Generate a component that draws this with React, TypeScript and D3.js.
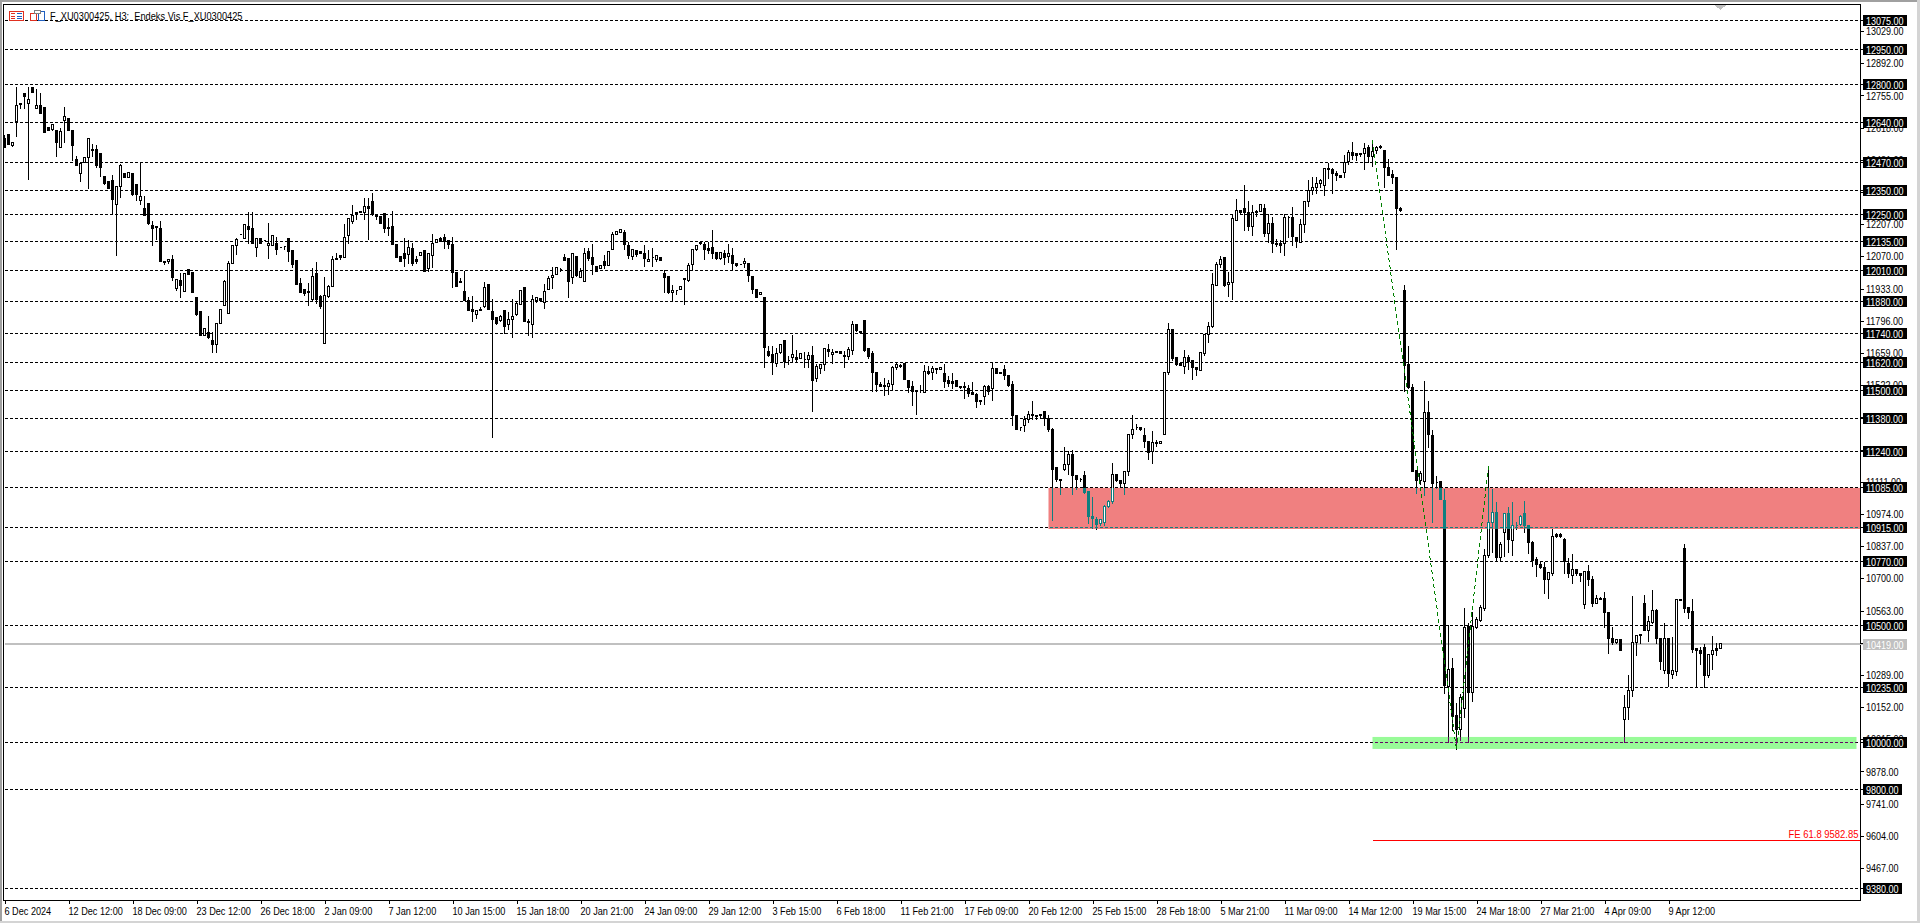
import * as d3 from 'd3';
import { useEffect, useRef } from 'react';

// one row per H3 bar: [open, high, low, close]
type Row = number[];

const barsDec: Row[] = [
  [12570,12591,12534,12534],[12588,12594,12546,12546],[12542,12553,12537,12553],[12645,12793,12581,12711],
  [12723,12723,12698,12716],[12762,12762,12699,12752],[12723,12793,12398,12740],[12787,12793,12769,12769],
  [12701,12783,12701,12711],[12711,12767,12679,12679],[12702,12702,12598,12598],[12618,12618,12607,12607],
  [12610,12637,12606,12630],[12608,12608,12495,12554],[12534,12617,12534,12600],[12650,12708,12554,12664],
  [12657,12657,12607,12607],[12608,12608,12478,12543],[12482,12499,12458,12458],[12425,12466,12390,12466],
  [12469,12489,12469,12489],[12489,12570,12360,12570],[12525,12549,12495,12522],[12527,12546,12449,12456],
  [12506,12506,12411,12449],[12412,12412,12377,12381],[12387,12387,12360,12360],[12395,12418,12250,12313],
  [12292,12368,12074,12368],[12368,12464,12321,12459],[12421,12421,12407,12407],[12407,12429,12407,12429],
  [12421,12421,12329,12333],[12378,12378,12307,12333],[12306,12468,12293,12327],[12272,12329,12246,12246],
  [12297,12297,12208,12211],[12201,12222,12117,12190],[12199,12199,12143,12195],[12188,12225,12049,12049],
  [12049,12049,12035,12045],[12049,12057,12038,12057],[12055,12080,11969,11981],[11935,11972,11927,11972],
  [11969,12001,11895,11948],[11922,11999,11922,11999],[12016,12016,11993,11993],[12001,12001,11917,11917],
  [11897,11897,11819,11822],[11837,11837,11735,11735],[11735,11765,11735,11765],[11748,11817,11722,11727],
  [11714,11749,11661,11695],[11697,11786,11661,11786],[11786,11846,11786,11846],[11863,11972,11860,11965],
  [11829,12052,11829,12042],[12040,12118,12038,12118],[12118,12151,12080,12144],[12165,12165,12164,12164],
  [12148,12208,12148,12208],[12199,12263,12126,12185],[12191,12260,12126,12126],[12110,12148,12070,12148],
  [12148,12148,12126,12126],[12137,12137,12136,12136],[12118,12214,12062,12127],[12118,12157,12118,12157],
  [12127,12154,12079,12100],[12110,12110,12109,12109],[12114,12114,12100,12111],[12148,12148,12049,12091],
  [12096,12096,12021,12036],[12053,12053,11952,11952],[11955,11981,11918,11918],[11930,11930,11905,11911],
  [11920,11958,11863,11918],[11888,12022,11883,11984],[11996,12049,11871,11888],[11898,11907,11850,11857],
];

const barsJan: Row[] = [
  [11701,11984,11701,11903],[11901,11951,11897,11941],[11941,12073,11941,12056],[12060,12086,12055,12055],
  [12073,12073,12059,12067],[12067,12209,12067,12150],[12158,12231,12124,12231],[12218,12292,12212,12243],
  [12256,12256,12229,12252],[12261,12261,12255,12255],[12259,12319,12226,12282],[12282,12319,12143,12276],
  [12303,12341,12243,12248],[12243,12252,12226,12239],[12239,12239,12209,12209],[12252,12252,12171,12187],
  [12192,12234,12158,12187],[12197,12265,12119,12119],[12120,12120,12067,12067],[12069,12069,12050,12050],
  [12082,12150,12028,12063],[12077,12141,12039,12107],[12103,12128,12033,12042],[12056,12073,12039,12050],
  [12072,12090,12072,12086],[12094,12099,12004,12004],[12018,12082,12004,12082],[12073,12167,12021,12124],
  [12128,12144,12128,12144],[12146,12154,12133,12133],[12150,12167,12103,12133],[12137,12137,12103,12120],
  [12120,12154,11937,12001],[12001,12001,11940,11942],[11962,11979,11958,11958],[11921,12009,11884,11884],
  [11881,11900,11839,11840],[11843,11904,11791,11837],[11825,11839,11808,11839],[11844,11859,11839,11839],
  [11859,11962,11852,11937],[11950,11950,11846,11846],[11835,11890,11301,11800],[11810,11813,11779,11783],
  [11796,11822,11792,11813],[11839,11839,11741,11773],[11779,11835,11758,11800],[11800,11890,11724,11813],
  [11825,11877,11820,11869],[11864,11931,11864,11924],[11937,11941,11792,11792],[11792,11805,11734,11789],
  [11779,11907,11724,11886],[11881,11898,11873,11894],[11890,11890,11881,11881],[11873,11954,11849,11920],
  [11928,11988,11928,11975],[11979,12026,11933,11988],[11992,12022,11992,12022],[12014,12022,12006,12013],
  [12065,12082,12052,12052],[12060,12060,11897,11962],[11979,12082,11954,12082],[12069,12069,11984,11988],
  [11980,12023,11980,12007],[11963,12109,11963,12084],[12092,12109,12054,12063],[12067,12126,11994,12034],
  [12028,12028,12007,12007],[12019,12033,12019,12033],[12050,12080,12019,12030],[12031,12097,12031,12092],
  [12101,12178,12101,12165],[12162,12182,12162,12178],[12172,12186,12172,12183],[12173,12186,12101,12121],
  [12118,12135,12061,12073],[12070,12101,12057,12101],[12097,12097,12071,12080],[12092,12092,12082,12082],
  [12084,12122,12027,12061],[12050,12101,12050,12058],[12067,12109,12027,12066],[12055,12075,12048,12075],
  [12067,12067,12053,12053],[11999,12016,11916,11980],[11983,11983,11914,11918],[11918,11952,11879,11926],
  [11926,11926,11909,11925],[11929,11943,11929,11943],[11977,11977,11867,11972],[11967,12046,11965,12033],
  [12037,12101,12014,12101],[12101,12122,12097,12118],[12131,12135,12122,12127],[12122,12135,12057,12099],
  [12105,12135,12084,12094],[12109,12186,12063,12084],[12088,12088,12055,12060],[12063,12092,12058,12087],
  [12084,12101,12036,12067],[12070,12126,12044,12084],[12075,12109,12011,12040],[12041,12046,12028,12033],
  [12037,12037,12036,12036],[12041,12067,12024,12050],[12041,12041,11965,11989],[11986,11986,11912,11931],
  [11931,11931,11896,11896],[11909,11918,11909,11918],[11896,11896,11597,11682],[11666,11692,11645,11649],
];

const barsFeb: Row[] = [
  [11654,11692,11567,11620],[11615,11683,11602,11658],[11662,11700,11658,11696],[11713,11713,11597,11625],
  [11628,11649,11610,11627],[11641,11739,11620,11654],[11641,11675,11624,11632],[11637,11658,11637,11658],
  [11632,11666,11598,11631],[11632,11666,11598,11649],[11649,11692,11409,11543],[11551,11615,11539,11602],
  [11594,11615,11573,11611],[11611,11679,11585,11679],[11675,11700,11645,11665],[11654,11679,11615,11662],
  [11665,11665,11661,11661],[11666,11666,11658,11658],[11649,11671,11598,11645],[11645,11688,11632,11675],
  [11671,11798,11654,11781],[11781,11781,11752,11756],[11752,11752,11747,11747],[11798,11798,11666,11669],
  [11679,11679,11637,11644],[11659,11668,11497,11577],[11574,11582,11497,11527],[11527,11536,11516,11516],
  [11519,11553,11477,11518],[11518,11548,11484,11531],[11527,11604,11503,11599],[11598,11625,11587,11612],
  [11604,11616,11597,11601],[11616,11616,11547,11547],[11544,11544,11489,11513],[11518,11540,11436,11497],
  [11501,11501,11398,11497],[11499,11523,11493,11498],[11489,11608,11489,11582],[11582,11604,11568,11572],
  [11578,11604,11548,11591],[11591,11595,11570,11587],[11587,11599,11587,11599],[11570,11616,11514,11538],
  [11540,11565,11518,11530],[11536,11574,11506,11530],[11540,11540,11517,11517],[11517,11517,11510,11514],
  [11518,11536,11466,11513],[11510,11527,11476,11487],[11489,11536,11483,11483],[11484,11489,11428,11452],
  [11455,11455,11439,11452],[11476,11524,11440,11518],[11518,11527,11483,11497],[11506,11625,11459,11591],
  [11591,11591,11572,11572],[11574,11582,11570,11570],[11587,11612,11548,11562],[11565,11565,11518,11521],
  [11527,11544,11351,11394],[11395,11399,11335,11335],[11341,11348,11330,11340],[11352,11395,11325,11374],
  [11374,11416,11365,11399],[11399,11459,11374,11391],[11391,11391,11378,11390],[11391,11399,11382,11399],
  [11408,11412,11351,11379],[11382,11399,11323,11335],[11335,11340,10948,11165],[11173,11173,11114,11119],
  [11122,11122,11057,11118],[11165,11260,11161,11186],[11186,11246,11144,11225],[11225,11250,11057,11139],
  [11139,11144,11080,11122],[11122,11129,11114,11121],[11139,11161,11061,11067],[11071,11071,10935,10965],
  [10965,11050,10914,10956],[10950,10965,10909,10931],[10935,10950,10924,10950],[10939,11016,10924,11007],
  [11007,11037,11002,11029],[11029,11195,11020,11144],[11144,11148,11114,11118],[11118,11118,11092,11105],
  [11105,11156,11058,11156],[11156,11317,11139,11314],[11314,11399,11297,11335],[11344,11361,11335,11340],
  [11341,11345,11328,11335],[11310,11340,11257,11284],[11284,11284,11207,11237],[11240,11331,11190,11280],
  [11280,11293,11263,11274],[11273,11281,11273,11281],[11313,11575,11313,11575],[11574,11790,11568,11759],
  [11759,11759,11628,11636],[11639,11639,11605,11609],[11615,11615,11605,11605],[11601,11673,11571,11639],
  [11639,11653,11588,11624],[11627,11631,11546,11597],[11597,11597,11563,11588],[11585,11661,11585,11661],
  [11655,11737,11649,11737],[11737,11793,11705,11771],[11770,12001,11767,11950],[11946,12048,11946,12035],
];

const barsMar: Row[] = [
  [12035,12074,12023,12057],[12067,12070,11940,11946],[11950,12006,11900,11959],[11959,12253,11886,12231],
  [12224,12317,12224,12265],[12265,12270,12253,12257],[12274,12376,12182,12256],[12257,12308,12179,12196],
  [12196,12291,12160,12257],[12261,12270,12241,12257],[12260,12295,12260,12291],[12274,12295,12153,12167],
  [12167,12253,12129,12210],[12210,12240,12087,12123],[12125,12146,12111,12121],[12125,12142,12087,12116],
  [12125,12253,12075,12236],[12236,12244,12150,12235],[12236,12282,12116,12153],[12150,12155,12108,12132],
  [12129,12231,12129,12206],[12206,12308,12170,12304],[12304,12398,12282,12351],[12351,12410,12334,12363],
  [12363,12410,12338,12380],[12379,12402,12363,12393],[12372,12449,12329,12444],[12444,12470,12402,12440],
  [12440,12449,12338,12423],[12425,12436,12395,12415],[12416,12416,12406,12406],[12427,12504,12406,12470],
  [12473,12525,12461,12513],[12513,12559,12483,12498],[12507,12513,12480,12501],[12508,12513,12494,12504],
  [12508,12555,12440,12530],[12534,12547,12470,12494],[12496,12564,12453,12517],[12521,12542,12508,12534],
  [12540,12547,12530,12534],[12521,12521,12362,12449],[12449,12487,12413,12413],[12420,12440,12380,12406],
  [12406,12406,12098,12273],[12274,12281,12261,12265],[11927,11952,11496,11606],[11608,11693,11510,11513],
  [11514,11531,11155,11155],[11157,11157,11059,11118],[11118,11157,11101,11147],[11113,11540,11052,11404],
  [11404,11455,11257,11314],[11310,11335,10938,11104],[11110,11136,11084,11109],[11113,11116,11036,11036],
  [11031,11084,10208,10245],[10239,10502,10000,10310],[10315,10361,10051,10113],[10115,10170,9971,10058],
  [10058,10212,10008,10191],[10147,10574,10109,10489],[10495,10514,10000,10215],[10215,10557,10177,10493],
  [10492,10536,10486,10523],[10522,10587,10517,10578],[10570,10825,10565,10799],[10797,11178,10787,10936],
  [10936,11084,10812,10982],[10982,11025,10778,10787],[10790,10855,10778,10842],[10893,10982,10794,10974],
  [10974,11004,10812,10867],[10863,11025,10798,10927],[10927,10940,10906,10926],[10931,10970,10927,10965],
  [10978,11033,10896,10927],[10927,10931,10804,10851],[10851,10859,10751,10778],[10782,10791,10709,10757],
  [10757,10774,10744,10748],[10748,10770,10636,10697],[10697,10727,10615,10723],[10719,10914,10713,10880],
  [10885,10897,10872,10879],[10885,10893,10872,10876],[10867,10872,10721,10770],[10765,10787,10702,10719],
  [10714,10804,10680,10736],[10736,10744,10713,10719],[10719,10723,10687,10714],[10587,10731,10573,10731],
  [10731,10761,10670,10693],[10693,10710,10581,10594],[10591,10633,10591,10616],[10616,10621,10608,10612],
];

const barsApr: Row[] = [
  [10616,10646,10492,10553],[10553,10553,10381,10445],[10446,10497,10419,10428],[10428,10446,10424,10438],
  [10438,10438,10395,10395],[10098,10204,10000,10149],[10149,10289,10098,10221],[10221,10629,10198,10428],
  [10428,10455,10373,10455],[10455,10463,10421,10463],[10595,10633,10479,10479],[10480,10540,10432,10517],
  [10513,10651,10506,10565],[10565,10570,10421,10445],[10446,10446,10314,10347],[10309,10514,10296,10446],
  [10446,10446,10241,10296],[10292,10451,10275,10306],[10305,10608,10285,10608],[10608,10608,10607,10607],
  [10829,10850,10556,10573],[10574,10574,10530,10556],[10561,10616,10385,10398],[10400,10404,10241,10395],
  [10391,10412,10334,10381],[10404,10424,10234,10288],[10288,10378,10279,10378],[10378,10455,10313,10395],
  [10400,10429,10373,10394],[10400,10425,10400,10421],
];

const hLevels = [13075, 12950, 12800, 12640, 12470, 12350, 12250, 12135, 12010, 11880, 11740, 11620, 11500, 11380, 11240, 11085, 10915, 10770, 10500, 10235, 10000, 9800, 9380];
const priceTicks = [13029, 12892, 12755, 12618, 12481, 12344, 12207, 12070, 11933, 11796, 11659, 11522, 11385, 11248, 11111, 10974, 10837, 10700, 10563, 10426, 10289, 10152, 10015, 9878, 9741, 9604, 9467];
const timeLabels = [
  '6 Dec 2024', '12 Dec 12:00', '18 Dec 09:00', '23 Dec 12:00', '26 Dec 18:00', '2 Jan 09:00', '7 Jan 12:00',
  '10 Jan 15:00', '15 Jan 18:00', '20 Jan 21:00', '24 Jan 09:00', '29 Jan 12:00', '3 Feb 15:00', '6 Feb 18:00',
  '11 Feb 21:00', '17 Feb 09:00', '20 Feb 12:00', '25 Feb 15:00', '28 Feb 18:00', '5 Mar 21:00', '11 Mar 09:00',
  '14 Mar 12:00', '19 Mar 15:00', '24 Mar 18:00', '27 Mar 21:00', '4 Apr 09:00', '9 Apr 12:00',
];
const lastPrice = 10419;
const feLevel = 9582.85;
const title = 'F_XU0300425, H3:  Endeks Vis F_XU0300425';
const feLabel = 'FE 61.8 9582.85';

const FONT = '"Liberation Sans", sans-serif';
const WIDTH = 1920;
const HEIGHT = 923;
const plot = { left: 4, right: 1860, top: 4, bottom: 900 };

// the terminal font is much narrower than anything installed
function squeeze(sel: d3.Selection<any, any, any, any>, factor: number) {
  sel.each(function () {
    const node = this as SVGTextElement;
    node.setAttribute('textLength', String(node.getComputedTextLength() * factor));
    node.setAttribute('lengthAdjust', 'spacingAndGlyphs');
  });
}

export default function App() {
  const svgRef = useRef<SVGSVGElement>(null);

  useEffect(() => {
    if (!svgRef.current) return;
    const svg = d3.select(svgRef.current);
    svg.selectAll('*').remove();

    const bars = [...barsDec, ...barsJan, ...barsFeb, ...barsMar, ...barsApr].map(([open, high, low, close], i) => ({
      i, open, high, low, close,
    }));

    // 4px per bar, price scale taken from the labelled levels
    const x = d3.scaleLinear().domain([0, 1]).range([4.5, 8.5]);
    const y = d3.scaleLinear().domain([9380, 13075]).range([888.5, 20.3]);
    const snap = (v: number) => Math.floor(v) + 0.5;

    // zones sit behind the bars, and flip what is drawn over them
    const zones = [
      { id: 'zoneRed', fill: '#f08080', ink: '#0f7f7f', from: 261, to: 464, high: 11085, low: 10910 },
      { id: 'zoneGreen', fill: '#98fb98', ink: '#670467', from: 342, to: 463, high: 10025, low: 9974 },
    ];
    const clipRight = plot.right;

    const defs = svg.append('defs');
    zones.forEach((z) => {
      defs
        .append('clipPath')
        .attr('id', z.id)
        .append('rect')
        .attr('x', x(z.from))
        .attr('y', y(z.high))
        .attr('width', Math.min(x(z.to), clipRight) - x(z.from))
        .attr('height', y(z.low) - y(z.high));
    });

    svg.append('rect').attr('width', WIDTH).attr('height', HEIGHT).attr('fill', '#fff');

    zones.forEach((z) => {
      svg
        .append('rect')
        .attr('x', x(z.from))
        .attr('y', y(z.high))
        .attr('width', Math.min(x(z.to), clipRight) - x(z.from))
        .attr('height', y(z.low) - y(z.high))
        .attr('fill', z.fill);
    });

    const drawLayer = (g: d3.Selection<SVGGElement, unknown, null, undefined>, ink: string, paper: string) => {
      g.attr('shape-rendering', 'crispEdges');

      g.selectAll('.level')
        .data(hLevels)
        .enter()
        .append('line')
        .attr('x1', plot.left + 1)
        .attr('x2', plot.right)
        .attr('y1', (d) => snap(y(d)))
        .attr('y2', (d) => snap(y(d)))
        .attr('stroke', ink)
        .attr('stroke-dasharray', '3 2');

      g.selectAll('.wick')
        .data(bars)
        .enter()
        .append('line')
        .attr('x1', (d) => x(d.i))
        .attr('x2', (d) => x(d.i))
        .attr('y1', (d) => snap(y(d.high)))
        .attr('y2', (d) => snap(y(d.low)) + 0.5)
        .attr('stroke', ink);

      g.selectAll('.body')
        .data(bars)
        .enter()
        .append('path')
        .attr('d', (d) => {
          const top = snap(y(Math.max(d.open, d.close)));
          const bottom = snap(y(Math.min(d.open, d.close)));
          const cx = x(d.i);
          return `M${cx - 1},${top}H${cx + 1}V${bottom}H${cx - 1}Z`;
        })
        .attr('fill', (d) => (d.close >= d.open ? paper : ink))
        .attr('stroke', ink);
    };

    // current price line, under the bars
    svg
      .append('line')
      .attr('x1', plot.left + 1)
      .attr('x2', plot.right)
      .attr('y1', y(lastPrice))
      .attr('y2', y(lastPrice))
      .attr('stroke', '#c0c0c0')
      .attr('stroke-width', 2)
      .attr('shape-rendering', 'crispEdges');

    drawLayer(svg.append('g'), '#000', '#fff');
    zones.forEach((z) => {
      drawLayer(svg.append('g').attr('clip-path', `url(#${z.id})`), z.ink, '#fff');
    });

    // expansion tool: anchored on the swing high, the low and the rebound high
    const swingA = bars[342];
    const swingB = bars[363];
    const swingC = bars[371];
    const trend = d3
      .line<[number, number]>()
      .x((d) => x(d[0]))
      .y((d) => y(d[1]));
    svg
      .append('path')
      .attr('d', trend([[swingA.i, swingA.high], [swingB.i, swingB.low], [swingC.i, swingC.high]]))
      .attr('fill', 'none')
      .attr('stroke', '#008000')
      .attr('stroke-dasharray', '4 3')
      .attr('shape-rendering', 'crispEdges');

    svg
      .append('line')
      .attr('x1', x(swingA.i))
      .attr('x2', plot.right)
      .attr('y1', snap(y(feLevel)))
      .attr('y2', snap(y(feLevel)))
      .attr('stroke', '#ff0000')
      .attr('shape-rendering', 'crispEdges');
    svg
      .append('text')
      .attr('x', plot.right - 1.5)
      .attr('y', y(feLevel) - 2.5)
      .attr('text-anchor', 'end')
      .attr('fill', '#ff0000')
      .attr('font-family', FONT)
      .attr('font-size', 11)
      .text(feLabel)
      .call(squeeze, 0.86);

    // frame of the terminal window
    const frame = svg.append('g').attr('shape-rendering', 'crispEdges');
    frame.append('rect').attr('width', WIDTH).attr('height', 2).attr('fill', '#a0a0a0');
    frame.append('rect').attr('width', 2).attr('height', HEIGHT).attr('fill', '#a0a0a0');
    frame.append('rect').attr('x', WIDTH - 3).attr('width', 3).attr('height', HEIGHT).attr('fill', '#d4d4d4');
    frame.append('rect').attr('y', HEIGHT - 2).attr('width', WIDTH).attr('height', 2).attr('fill', '#d4d4d4');
    frame.append('rect').attr('x', plot.left - 1).attr('y', plot.top).attr('width', plot.right - plot.left + 1).attr('height', 1).attr('fill', '#000');
    frame.append('rect').attr('x', plot.left - 1).attr('y', plot.top).attr('width', 1).attr('height', plot.bottom - plot.top).attr('fill', '#000');
    frame.append('path').attr('d', `M${x(429) - 6},${plot.top + 1}h12l-6,5z`).attr('fill', '#c0c0c0');

    // price axis
    const yAxis = d3
      .axisRight(y)
      .tickValues(priceTicks)
      .tickFormat((d) => d3.format('.2f')(d as number))
      .tickSize(4)
      .tickPadding(2);
    const yAxisG = svg.append('g').attr('transform', `translate(${plot.right},0)`).call(yAxis);
    yAxisG.select('.domain').remove();
    yAxisG.selectAll('line').attr('stroke', '#000').attr('shape-rendering', 'crispEdges');
    yAxisG.selectAll('text').attr('font-family', FONT).attr('font-size', 11).attr('fill', '#000').call(squeeze, 0.82);

    // time axis
    const timeIdx = timeLabels.map((_, k) => k * 16);
    const xAxis = d3
      .axisBottom(x)
      .tickValues(timeIdx)
      .tickFormat((d) => timeLabels[(d as number) / 16])
      .tickSize(4)
      .tickPadding(3);
    const xAxisG = svg.append('g').attr('transform', `translate(0,${plot.bottom})`).call(xAxis);
    xAxisG.select('.domain').remove();
    xAxisG.selectAll('line').attr('stroke', '#000').attr('shape-rendering', 'crispEdges');
    xAxisG.selectAll('text').attr('font-family', FONT).attr('font-size', 11).attr('fill', '#000').attr('text-anchor', 'start').attr('dx', -0.5).call(squeeze, 0.83);

    frame.append('rect').attr('x', plot.left - 1).attr('y', plot.bottom).attr('width', plot.right - plot.left + 2).attr('height', 1).attr('fill', '#000');
    frame.append('rect').attr('x', plot.right).attr('y', plot.top).attr('width', 1).attr('height', plot.bottom - plot.top).attr('fill', '#000');
    svg.node()?.appendChild(frame.node() as SVGGElement);

    // level tags cover the scale labels
    const tags = [...hLevels.map((v) => ({ v, bg: '#000' })), { v: lastPrice, bg: '#c0c0c0' }];
    const tag = svg.selectAll('.tag').data(tags).enter().append('g').attr('transform', (d) => `translate(${plot.right},${snap(y(d.v))})`);
    tag.append('line').attr('x2', 3).attr('stroke', (d) => d.bg).attr('shape-rendering', 'crispEdges');
    tag
      .append('rect')
      .attr('x', 3)
      .attr('y', -5.5)
      .attr('width', (d) => (d.v >= 10000 ? 44 : 39))
      .attr('height', 11)
      .attr('fill', (d) => d.bg)
      .attr('shape-rendering', 'crispEdges');
    tag
      .append('text')
      .attr('x', 6)
      .attr('y', 4)
      .attr('font-family', FONT)
      .attr('font-size', 11)
      .attr('fill', '#fff')
      .text((d) => d3.format('.2f')(d.v))
      .call(squeeze, 0.82);

    // chart title with the two small toolbar icons
    const icons = svg.append('g').attr('shape-rendering', 'crispEdges');
    icons.append('rect').attr('x', 9.5).attr('y', 11.5).attr('width', 14).attr('height', 9).attr('fill', '#fff').attr('stroke', '#e03020');
    d3.range(3).forEach((k) => {
      icons.append('rect').attr('x', 11).attr('y', 13 + k * 2.5).attr('width', 4).attr('height', 1).attr('fill', '#e03020');
      icons.append('rect').attr('x', 17).attr('y', 13 + k * 2.5).attr('width', 5).attr('height', 1).attr('fill', '#2060c0');
    });
    icons.append('rect').attr('x', 30.5).attr('y', 13.5).attr('width', 6).attr('height', 7).attr('fill', '#fff').attr('stroke', '#e03020');
    icons.append('rect').attr('x', 38.5).attr('y', 11.5).attr('width', 6).attr('height', 9).attr('fill', '#fff').attr('stroke', '#2060c0');
    icons.append('rect').attr('x', 34.5).attr('y', 10.5).attr('width', 6).attr('height', 3).attr('fill', '#fff').attr('stroke', '#808080');

    svg
      .append('text')
      .attr('x', 50)
      .attr('y', 19.5)
      .attr('font-family', FONT)
      .attr('font-size', 11)
      .attr('fill', '#000')
      .style('white-space', 'pre')
      .text(title)
      .call(squeeze, 0.84);
  }, []);

  return <svg ref={svgRef} width={WIDTH} height={HEIGHT} style={{ position: 'absolute', left: 0, top: 0, display: 'block' }} />;
}
